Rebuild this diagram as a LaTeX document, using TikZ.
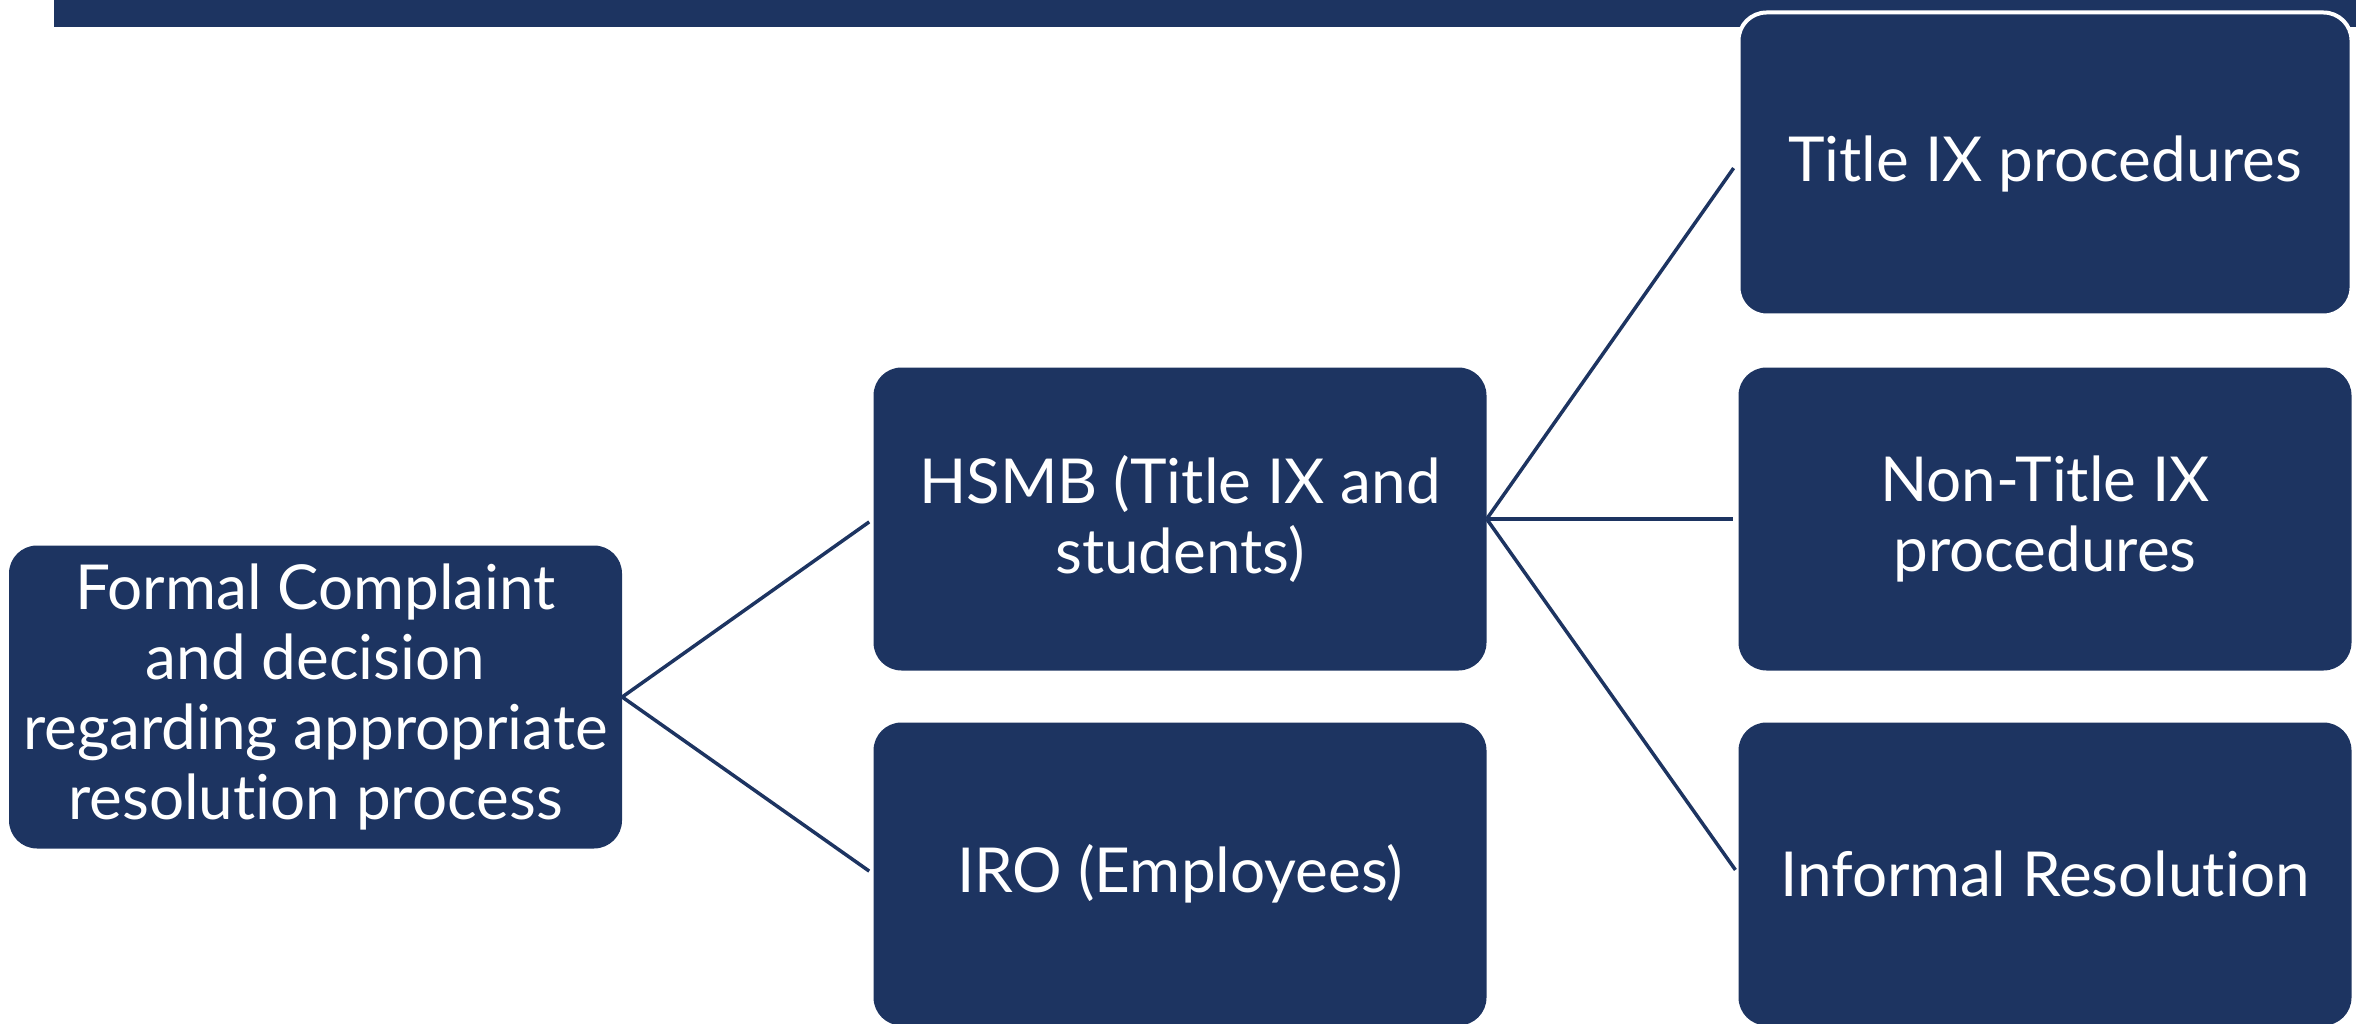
\documentclass[tikz,border=0pt]{standalone}
\usepackage{fontspec}
\setmainfont[Ligatures={NoCommon}]{Lato}
\definecolor{navy}{RGB}{29,52,97}
\begin{document}
\begin{tikzpicture}[x=1pt,y=-1pt,
  box/.style={rectangle, rounded corners=28pt, fill=navy, text=white,
    minimum width=613pt, minimum height=303pt, inner sep=0pt, align=center,
    font=\fontsize{62}{70}\selectfont},
  conn/.style={draw=navy, line width=3.5pt, shorten >=5pt}]
\useasboundingbox (0,0) rectangle (2356,1024);
\clip (0,0) rectangle (2356,1024);
\fill[navy] (54,0) rectangle (2356,27);
\node[box] (formal) at (315.5,697) {Formal Complaint\\and decision\\regarding appropriate\\resolution process};
\node[box] (hsmb) at (1180,519) {HSMB (Title IX and\\students)};
\node[box] (iro) at (1180,874) {IRO (Employees)};
\node[box, draw=white, line width=4pt] (t9) at (2045,164) {Title IX procedures};
\node[box] (nont9) at (2045,519) {Non-Title IX\\procedures};
\node[box] (inf) at (2045,874) {Informal Resolution};
\draw[conn] (formal.east) -- (hsmb.west);
\draw[conn] (formal.east) -- (iro.west);
\draw[conn] (hsmb.east) -- (t9.west);
\draw[conn] (hsmb.east) -- (nont9.west);
\draw[conn] (hsmb.east) -- (inf.west);
\end{tikzpicture}
\end{document}
